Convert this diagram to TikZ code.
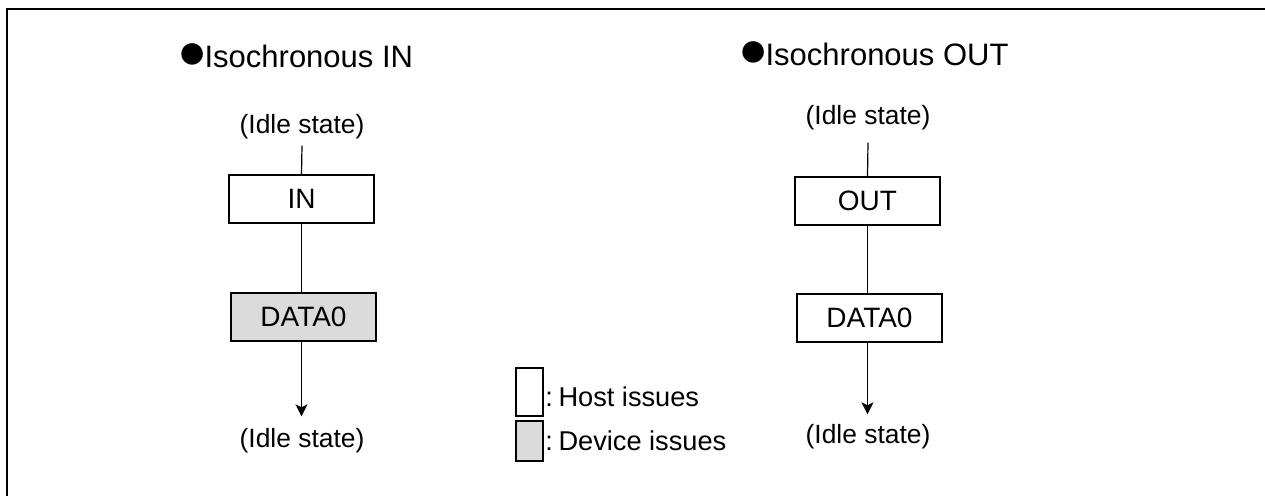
\documentclass[tikz,border=0pt]{standalone}
\usepackage{fontspec}
\setmainfont{Liberation Sans}
\usetikzlibrary{arrows.meta}
\newcommand{\bigdot}{{\fontsize{25pt}{25pt}\selectfont\raisebox{-0.6pt}{●}}\kern-1.5pt}
\begin{document}
\begin{tikzpicture}[x=0.5pt,y=-0.5pt,
  lbl/.style={inner sep=0pt,font=\fontsize{13.2pt}{15pt}\selectfont},
  ttl/.style={inner sep=0pt,anchor=west,font=\fontsize{15.5pt}{17pt}\selectfont},
  hostbox/.style={draw,line width=0.6pt,minimum width=72.5pt,minimum height=24pt,inner sep=0pt,font=\fontsize{14pt}{16pt}\selectfont},
  devbox/.style={hostbox,fill=black!14},
  conn/.style={line width=0.6pt},
  arr/.style={conn,-{Stealth[length=6pt,width=6pt,inset=1.5pt]}},
  frame/.style={line width=1.3pt}]
\useasboundingbox (0,0) rectangle (1265,496);
% frame (top and left edges only)
\coordinate (fbl) at (7,500);
\coordinate (ftl) at (7,9);
\coordinate (ftr) at (1270,9);
\draw[frame] (fbl) -- (ftl) -- (ftr);
% titles
\node[ttl] (t1) at (177,56) {\bigdot Isochronous IN};
\node[ttl] (t2) at (738,54) {\bigdot Isochronous OUT};
% left column
\node[lbl] (il1) at (302,127) {(Idle state)};
\node[hostbox] (inb) at (301.5,199) {IN};
\node[devbox] (dl) at (303.5,317) {DATA0\hspace{14pt}};
\node[lbl] (il2) at (302,441) {(Idle state)};
\draw[conn] ([yshift=-3pt]il1.south) -- (inb.north);
\draw[conn] (inb.south) -- (dl.north -| inb.south);
\draw[arr] (dl.south -| inb.south) -- ([yshift=6pt]il2.north -| inb.south);
% right column
\node[lbl] (ir1) at (868,118) {(Idle state)};
\node[hostbox] (outb) at (867.5,201) {OUT};
\node[hostbox] (dr) at (869.5,318) {DATA0};
\node[lbl] (ir2) at (868,437) {(Idle state)};
\draw[conn] ([yshift=-6pt]ir1.south) -- (outb.north);
\draw[conn] (outb.south) -- (dr.north -| outb.south);
\draw[arr] (dr.south -| outb.south) -- ([yshift=5pt]ir2.north -| outb.south);
% legend
\node[draw,line width=0.6pt,minimum width=13.5pt,minimum height=24pt,inner sep=0pt] (lh) at (529.5,392) {};
\node[draw,line width=0.6pt,fill=black!14,minimum width=13.5pt,minimum height=20pt,inner sep=0pt] (ld) at (529.5,441) {};
\node[lbl,anchor=west,font=\fontsize{13.6pt}{15pt}\selectfont] (lht) at (545,397) {:\kern-1pt\ Host issues};
\node[lbl,anchor=west,font=\fontsize{13.6pt}{15pt}\selectfont] (ldt) at (545,441) {:\kern-1pt\ Device issues};
\end{tikzpicture}
\end{document}
